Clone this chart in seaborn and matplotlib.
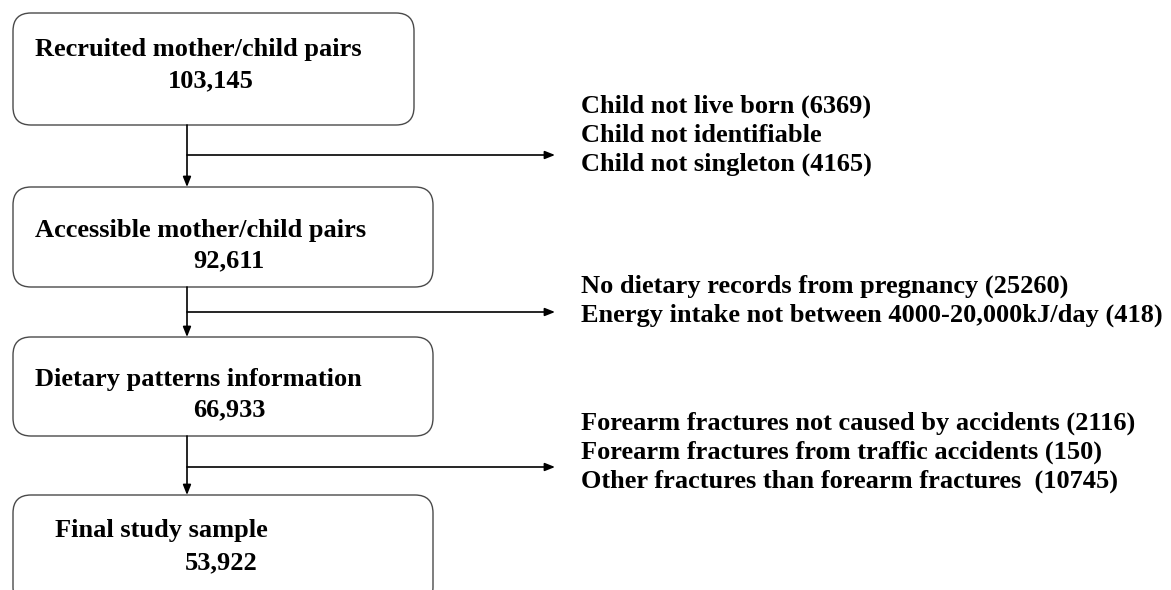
import matplotlib
matplotlib.use("Agg")
import matplotlib.pyplot as plt
import seaborn as sns
from matplotlib.patches import FancyBboxPatch

# flowchart content
stage_labels = ["Recruited mother/child pairs", "Accessible mother/child pairs",
                "Dietary patterns information", "Final study sample"]
stage_counts = [103145, 92611, 66933, 53922]
exclusions = [
    ["Child not live born (6369)", "Child not identifiable", "Child not singleton (4165)"],
    ["No dietary records from pregnancy (25260)",
     "Energy intake not between 4000-20,000kJ/day (418)"],
    ["Forearm fractures not caused by accidents (2116)",
     "Forearm fractures from traffic accidents (150)",
     "Other fractures than forearm fractures  (10745)"],
]

# layout (pixels, origin top-left, text y = baseline)
box_x0 = [13, 13, 13, 13]
box_x1 = [414, 433, 433, 433]
box_top = [13, 187, 337, 495]
box_bot = [125, 287, 436, 605]
label_x = [35, 35, 35, 55]
label_y = [56, 237, 386, 537]
count_x = [168, 193, 193, 185]
count_y = [87, 267, 416, 569]
branch_y = [155, 312, 467]
excl_x = 581
excl_y = [[113, 142, 171], [293, 322], [430, 459, 488]]
stem_x = 187
branch_end = 555

sns.set_theme(style="white")
plt.rcParams['font.family'] = ['Liberation Serif', 'DejaVu Serif']

fig = plt.figure(figsize=(11.71, 5.90), dpi=100)
ax = fig.add_axes([0, 0, 1, 1])
ax.set_xlim(0, 1171)
ax.set_ylim(590, 0)
ax.axis("off")

fs = 19
for i in range(len(stage_labels)):
    box = FancyBboxPatch((box_x0[i], box_top[i]), box_x1[i] - box_x0[i],
                         box_bot[i] - box_top[i],
                         boxstyle="round,pad=0,rounding_size=18",
                         fc="white", ec="#4a4a4a", lw=1.0)
    ax.add_patch(box)
    ax.text(label_x[i], label_y[i], stage_labels[i], fontsize=fs,
            fontweight="bold", ha="left", va="baseline", color="black")
    ax.text(count_x[i], count_y[i], f"{stage_counts[i]:,}", fontsize=fs,
            fontweight="bold", ha="left", va="baseline", color="black")

arrow_kw = dict(arrowstyle="-|>,head_length=0.5,head_width=0.2", color="black",
                lw=1.2, shrinkA=0, shrinkB=0)
for i in range(len(exclusions)):
    ax.annotate("", xy=(stem_x, box_top[i + 1]), xytext=(stem_x, box_bot[i]),
                arrowprops=arrow_kw)
    ax.annotate("", xy=(branch_end, branch_y[i]), xytext=(stem_x, branch_y[i]),
                arrowprops=arrow_kw)
    for txt, yy in zip(exclusions[i], excl_y[i]):
        ax.text(excl_x, yy, txt, fontsize=fs, fontweight="bold",
                ha="left", va="baseline", color="black")

plt.savefig("out.png", dpi=100)
plt.close()
